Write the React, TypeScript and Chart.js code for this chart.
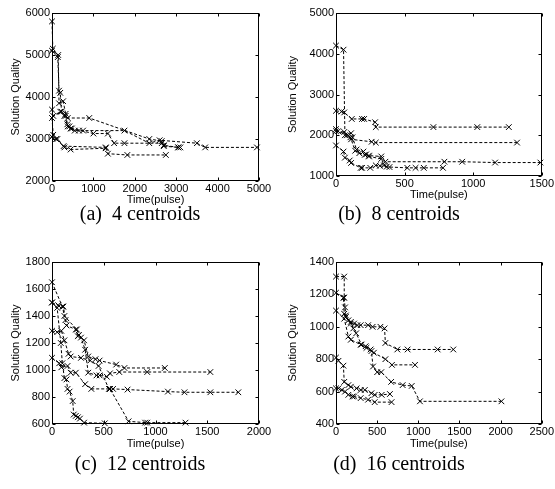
import React, { useEffect, useRef } from "react";
import { Chart, registerables } from "chart.js";
Chart.register(...registerables);

// ---------- (a) 4 centroids ----------
const a1Time = [0, 20, 140, 170, 200, 230, 330, 380, 900, 2350, 2650, 2700, 3050, 3100];
const a1Quality = [5800, 5150, 4950, 4150, 4100, 3650, 3550, 3500, 3500, 3000, 2950, 2850, 2800, 2800];
const a2Time = [0, 150, 170, 270, 330, 380, 450, 550, 650, 750, 1750, 2350, 2600, 3500, 3700, 4950];
const a2Quality = [5100, 5000, 3850, 3900, 3600, 3300, 3250, 3200, 3200, 3200, 3200, 2900, 2970, 2900, 2800, 2800];
const a3Time = [0, 30, 200, 300, 370, 420, 480, 1000, 1350, 1500, 1750, 2650, 2700, 3050];
const a3Quality = [3700, 3550, 3650, 3550, 3350, 3300, 3250, 3130, 3130, 2900, 2900, 2900, 2830, 2800];
const a4Time = [0, 30, 130, 300, 450, 1300, 1350, 1820, 2750];
const a4Quality = [3500, 3100, 3000, 2800, 2750, 2780, 2650, 2620, 2620];
const a5Time = [0, 100, 280, 1300];
const a5Quality = [3050, 3000, 2830, 2800];

// ---------- (b) 8 centroids ----------
const b1Time = [0, 55, 65, 110, 260, 290, 1320];
const b1Quality = [4200, 4100, 2000, 1900, 1840, 1820, 1820];
const b2Time = [0, 40, 60, 115, 190, 205, 285, 290, 710, 1030, 1260];
const b2Quality = [2600, 2580, 2560, 2400, 2400, 2400, 2320, 2200, 2200, 2200, 2200];
const b3Time = [0, 15, 80, 110, 120, 150, 200, 220, 240, 330, 360, 790, 920, 1160, 1490];
const b3Quality = [2150, 2100, 2000, 2050, 1950, 1650, 1600, 1530, 1500, 1480, 1350, 1350, 1350, 1330, 1330];
const b4Time = [0, 55, 65, 100, 110, 180, 190, 250, 290, 320, 390, 520, 580, 640, 780];
const b4Quality = [1750, 1600, 1450, 1380, 1320, 1200, 1200, 1200, 1260, 1250, 1220, 1200, 1200, 1200, 1200];
const b5Time = [0, 60, 105, 140, 170, 210, 240, 330, 350, 370];
const b5Quality = [2100, 2080, 1950, 1620, 1560, 1520, 1480, 1420, 1260, 1230];

// ---------- (c) 12 centroids ----------
const c1Time = [0, 100, 120, 240, 260, 310, 350, 420, 460, 620, 700, 1090];
const c1Quality = [1650, 1470, 1400, 1300, 1260, 1220, 1100, 1080, 1070, 1040, 1015, 1015];
const c2Time = [0, 60, 110, 130, 140, 230, 250, 280, 320, 350, 430, 460, 530, 560, 650, 920, 1530];
const c2Quality = [1500, 1480, 1470, 1370, 1330, 1300, 1250, 1240, 1150, 980, 960, 960, 950, 975, 985, 985, 985];
const c3Time = [0, 50, 90, 120, 160, 180, 280, 370, 450, 550, 560, 590, 730, 1120, 1280, 1530, 1800];
const c3Quality = [1290, 1280, 1290, 1220, 1120, 1100, 1090, 1070, 1030, 860, 860, 860, 855, 840, 835, 835, 835];
const c4Time = [0, 70, 90, 150, 180, 230, 320, 380, 560, 740, 900, 920, 1290];
const c4Quality = [1090, 1050, 1020, 1030, 980, 980, 895, 860, 860, 620, 610, 610, 610];
const c5Time = [0, 50, 85, 100, 120, 140, 150, 170, 200, 210, 230, 250, 270, 310, 510];
const c5Quality = [1500, 1460, 1200, 1050, 940, 930, 860, 840, 770, 670, 660, 650, 640, 610, 605];

// ---------- (d) 16 centroids ----------
const d1Time = [0, 100, 100, 110, 120, 150, 180, 220, 260, 300, 390, 445, 540, 590, 600, 745, 870, 1235, 1425];
const d1Quality = [1310, 1310, 1180, 1120, 1070, 1040, 1020, 1020, 1010, 1010, 1010, 1000, 1000, 990, 900, 860, 860, 860, 860];
const d2Time = [0, 90, 100, 120, 180, 210, 245, 310, 360, 420, 460, 600, 680, 960];
const d2Quality = [1210, 1180, 1080, 1060, 1030, 990, 960, 890, 880, 860, 840, 800, 765, 765];
const d3Time = [0, 100, 150, 180, 300, 370, 430, 450, 500, 550, 670, 810, 920, 1020, 2010];
const d3Quality = [1100, 1050, 940, 920, 890, 870, 850, 755, 720, 720, 660, 640, 635, 540, 540];
const d4Time = [0, 30, 90, 100, 150, 180, 250, 300, 350, 430, 470, 555, 655];
const d4Quality = [810, 790, 760, 660, 640, 630, 620, 610, 610, 590, 580, 580, 585];
const d5Time = [0, 30, 70, 110, 150, 200, 220, 300, 390, 470, 675];
const d5Quality = [620, 620, 610, 600, 580, 570, 570, 560, 550, 535, 535];

const xTitle = "Time(pulse)";
const yTitle = "Solution Quality";

const FONT = "'Liberation Sans', Arial, Helvetica, sans-serif";

function pairs(xs: number[], ys: number[]) {
  return xs.map((x, i) => ({ x, y: ys[i] }));
}

const framePlugin = {
  id: "frame",
  afterDraw(chart: any) {
    const { ctx, chartArea, scales } = chart;
    const { left, right, top, bottom } = chartArea;
    const L = Math.round(left) + 0.5;
    const R = Math.round(right) - 0.5;
    const T = Math.round(top) + 0.5;
    const B = Math.round(bottom) - 0.5;
    ctx.save();
    ctx.strokeStyle = "#000";
    ctx.lineWidth = 1;
    ctx.setLineDash([]);
    ctx.strokeRect(L, T, R - L, B - T);
    const tl = 3;
    ctx.beginPath();
    scales.x.ticks.forEach((t: any) => {
      const px = Math.round(scales.x.getPixelForValue(t.value)) + 0.5;
      ctx.moveTo(px, B);
      ctx.lineTo(px, B - tl);
      ctx.moveTo(px, T);
      ctx.lineTo(px, T + tl);
    });
    scales.y.ticks.forEach((t: any) => {
      const py = Math.round(scales.y.getPixelForValue(t.value)) + 0.5;
      ctx.moveTo(L, py);
      ctx.lineTo(L + tl, py);
      ctx.moveTo(R, py);
      ctx.lineTo(R - tl, py);
    });
    ctx.stroke();
    ctx.restore();
  },
};

type PanelProps = {
  left: number;
  top: number;
  width: number;
  height: number;
  plot: { l: number; t: number; r: number; b: number };
  titleY: number;
  xMax: number;
  xStep: number;
  yMin: number;
  yMax: number;
  yStep: number;
  series: { x: number[]; y: number[] }[];
};

function Panel(p: PanelProps) {
  const ref = useRef<HTMLCanvasElement>(null);
  useEffect(() => {
    if (!ref.current) return;
    const lh = 11 * 1.2;
    const padBottom = p.height - p.titleY - lh / 2;
    const xHeight = p.height - padBottom - p.plot.b;
    const chart = new Chart(ref.current, {
      type: "scatter",
      data: {
        datasets: p.series.map((s) => ({
          data: pairs(s.x, s.y),
          showLine: true,
          borderColor: "#000",
          backgroundColor: "#000",
          borderWidth: 1,
          borderDash: [3, 2],
          pointStyle: "crossRot",
          pointRadius: 4,
          pointBorderWidth: 1,
          pointBorderColor: "#000",
          tension: 0,
        })),
      },
      options: {
        animation: false,
        responsive: false,
        events: [],
        clip: false,
        layout: {
          padding: { left: 0, top: p.plot.t, right: p.width - p.plot.r, bottom: padBottom },
        },
        plugins: { legend: { display: false }, tooltip: { enabled: false } },
        scales: {
          x: {
            type: "linear",
            min: 0,
            max: p.xMax,
            grid: { display: false, drawTicks: false },
            border: { display: false },
            ticks: {
              stepSize: p.xStep,
              autoSkip: false,
              maxRotation: 0,
              padding: 1,
              color: "#000",
              font: { family: FONT, size: 11 },
              callback: (v: any) => String(v),
            },
            title: {
              display: true,
              text: xTitle,
              color: "#000",
              padding: 0,
              font: { family: FONT, size: 11 },
            },
            afterFit: (s: any) => {
              s.height = xHeight;
            },
          },
          y: {
            type: "linear",
            min: p.yMin,
            max: p.yMax,
            grid: { display: false, drawTicks: false },
            border: { display: false },
            ticks: {
              stepSize: p.yStep,
              autoSkip: false,
              padding: 2,
              color: "#000",
              font: { family: FONT, size: 11 },
              callback: (v: any) => String(v),
            },
            title: {
              display: true,
              text: yTitle,
              color: "#000",
              padding: { top: 9, bottom: 0 },
              font: { family: FONT, size: 11 },
            },
            afterFit: (s: any) => {
              s.width = p.plot.l;
            },
          },
        },
      } as any,
      plugins: [framePlugin],
    });
    return () => chart.destroy();
  }, []);
  return (
    <canvas
      ref={ref}
      width={p.width}
      height={p.height}
      style={{ position: "absolute", left: p.left, top: p.top, width: p.width, height: p.height }}
    />
  );
}

const captionStyle = (cx: number, cy: number): React.CSSProperties => ({
  position: "absolute",
  left: cx - 100,
  top: cy - 12,
  width: 200,
  height: 24,
  lineHeight: "24px",
  textAlign: "center",
  fontFamily: "'Liberation Serif', 'Times New Roman', serif",
  fontSize: 20,
  color: "#000",
  whiteSpace: "pre",
});

export default function App() {
  return (
    <div style={{ position: "absolute", left: 0, top: 0, width: 555, height: 489, background: "#fff", overflow: "hidden" }}>
      <Panel
        left={0}
        top={0}
        width={277}
        height={207}
        plot={{ l: 52, t: 13, r: 259, b: 181 }}
        titleY={200}
        xMax={5000}
        xStep={1000}
        yMin={2000}
        yMax={6000}
        yStep={1000}
        series={[
          { x: a1Time, y: a1Quality },
          { x: a2Time, y: a2Quality },
          { x: a3Time, y: a3Quality },
          { x: a4Time, y: a4Quality },
          { x: a5Time, y: a5Quality },
        ]}
      />
      <Panel
        left={277}
        top={0}
        width={278}
        height={207}
        plot={{ l: 59, t: 13, r: 265, b: 176 }}
        titleY={195}
        xMax={1500}
        xStep={500}
        yMin={1000}
        yMax={5000}
        yStep={1000}
        series={[
          { x: b1Time, y: b1Quality },
          { x: b2Time, y: b2Quality },
          { x: b3Time, y: b3Quality },
          { x: b4Time, y: b4Quality },
          { x: b5Time, y: b5Quality },
        ]}
      />
      <Panel
        left={0}
        top={240}
        width={277}
        height={215}
        plot={{ l: 52, t: 22, r: 259, b: 184 }}
        titleY={204}
        xMax={2000}
        xStep={500}
        yMin={600}
        yMax={1800}
        yStep={200}
        series={[
          { x: c1Time, y: c1Quality },
          { x: c2Time, y: c2Quality },
          { x: c3Time, y: c3Quality },
          { x: c4Time, y: c4Quality },
          { x: c5Time, y: c5Quality },
        ]}
      />
      <Panel
        left={277}
        top={240}
        width={278}
        height={215}
        plot={{ l: 59, t: 22, r: 265, b: 184 }}
        titleY={204}
        xMax={2500}
        xStep={500}
        yMin={400}
        yMax={1400}
        yStep={200}
        series={[
          { x: d1Time, y: d1Quality },
          { x: d2Time, y: d2Quality },
          { x: d3Time, y: d3Quality },
          { x: d4Time, y: d4Quality },
          { x: d5Time, y: d5Quality },
        ]}
      />
      <div style={captionStyle(140, 213)}>{"(a)  4 centroids"}</div>
      <div style={captionStyle(399, 213)}>{"(b)  8 centroids"}</div>
      <div style={captionStyle(140, 463)}>{"(c)  12 centroids"}</div>
      <div style={captionStyle(399, 463)}>{"(d)  16 centroids"}</div>
    </div>
  );
}
